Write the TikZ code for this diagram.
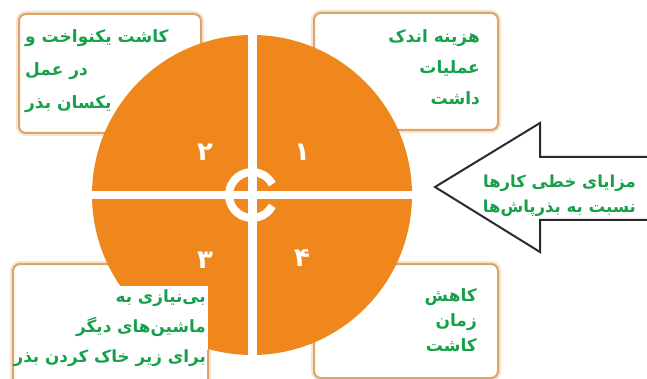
\documentclass[tikz,border=0pt]{standalone}
\usepackage{fontspec}
\newfontfamily\fafont[Script=Arabic]{DejaVu Sans}
\TeXXeTstate=1
\usetikzlibrary{positioning}
\definecolor{PieOrange}{HTML}{F0871C}
\definecolor{NoteGreen}{HTML}{16A04A}
\definecolor{BoxLine}{HTML}{DCA466}
\definecolor{ArrowLine}{HTML}{2B2B2B}
\newcommand{\rtlline}[1]{\beginR #1\endR}

\begin{document}
\begin{tikzpicture}[x=1pt, y=-1pt,
    box/.style={rectangle, draw=BoxLine, line width=2pt, fill=white, rounded corners=7pt, preaction={draw=BoxLine!30, line width=6pt}, anchor=north west},
    note/.style={font=\fafont\bfseries\fontsize{17}{32}\selectfont, text=NoteGreen, inner sep=0pt},
    bar/.style={fill=white},
    ring/.style={draw=white, line width=8pt},
    digit/.style={font=\fafont\bfseries\fontsize{26}{26}\selectfont, text=white},
    arrowshape/.style={fill=white, draw=ArrowLine, line width=2pt, line join=miter},
    arrowtext/.style={note, font=\fafont\bfseries\fontsize{16.5}{25}\selectfont, align=right, anchor=east}
  ]
    \useasboundingbox (0,0) rectangle (647,379);
    \fill[white] (0,0) rectangle (647,379);

    \node[box, minimum width=182pt, minimum height=119pt] (evenbox) at (18,13) {};
    \node[box, minimum width=184pt, minimum height=117pt] (costbox) at (313,12) {};
    \node[box, minimum width=195pt, minimum height=132pt] (toolsbox) at (12,263) {};
    \node[box, minimum width=184pt, minimum height=114pt] (timebox) at (313,263) {};

    \coordinate (c) at (252,195);
    \fill[PieOrange] (c) circle[radius=160];
    \fill[bar] (248,30) rectangle (257,360);
    \fill[bar] (85,191) rectangle (420,199);
    \draw[ring] ([shift={(28:23)}]c) arc[start angle=28, end angle=332, radius=23];
    \begin{scope}
      \clip (c) circle[radius=161];
      \fill[white] (14,286) rectangle (208,376);
    \end{scope}

    \node[digit] (d1) at (302,152) {۱};
    \node[digit] (d2) at (205,152) {۲};
    \node[digit] (d3) at (205,260) {۳};
    \node[digit] (d4) at (302,258) {۴};

    \node[note, align=left, anchor=north west, font=\fafont\bfseries\fontsize{17}{33}\selectfont] (even) at (25,29)
      {\rtlline{کاشت یکنواخت و}\\ \rtlline{در عمل}\\ \rtlline{یکسان بذر}};
    \node[note, align=right, anchor=north east, font=\fafont\bfseries\fontsize{17}{31}\selectfont] (cost) at (480,29)
      {\rtlline{هزینه اندک}\\ \rtlline{عملیات}\\ \rtlline{داشت}};
    \node[note, align=right, anchor=north east, font=\fafont\bfseries\fontsize{16.8}{30}\selectfont] (tools) at (206,290)
      {\rtlline{بی^^^^200cنیازی به}\\ \rtlline{ماشین^^^^200cهای دیگر}\\ \rtlline{برای زیر خاک کردن بذر}};
    \node[note, align=right, anchor=north east, font=\fafont\bfseries\fontsize{17}{25}\selectfont] (time) at (477,288)
      {\rtlline{کاهش}\\ \rtlline{زمان}\\ \rtlline{کاشت}};

    \filldraw[arrowshape] (660,157) -- (540,157) -- (540,123) -- (435,187) -- (540,252) -- (540,220) -- (660,220);
    \node[arrowtext] (why) at (636,196) {\rtlline{مزایای خطی کارها}\\ \rtlline{نسبت به بذرپاش^^^^200cها}};
\end{tikzpicture}
\end{document}
